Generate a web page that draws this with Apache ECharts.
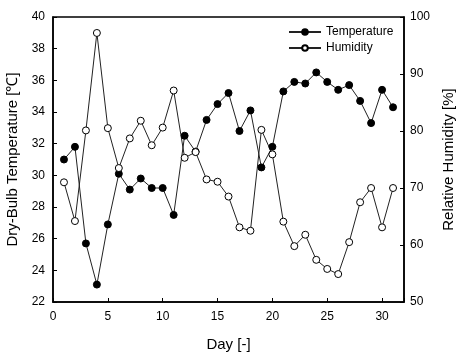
<!DOCTYPE html>
<html><head><meta charset="utf-8">
<script src="https://cdn.jsdelivr.net/npm/echarts@6/dist/echarts.min.js"></script>
<style>html,body{margin:0;padding:0;background:#fff}#c{width:459px;height:356px}</style>
</head><body><div id="c"></div>
<script>
const days = [1,2,3,4,5,6,7,8,9,10,11,12,13,14,15,16,17,18,19,20,21,22,23,24,25,26,27,28,29,30,31];
const temperature = [31.0,31.8,25.7,23.1,26.9,30.1,29.1,29.8,29.2,29.2,27.5,32.5,31.5,33.5,34.5,35.2,32.8,34.1,30.5,31.8,35.3,35.9,35.8,36.5,35.9,35.4,35.7,34.7,33.3,35.4,34.3];
const humidity = [71.0,64.2,80.1,97.2,80.5,73.5,78.7,81.8,77.5,80.6,87.1,75.3,76.3,71.5,71.1,68.5,63.1,62.5,80.2,75.9,64.1,59.8,61.8,57.4,55.8,54.9,60.5,67.5,70.0,63.1,70.0];
const xTicks = [0,5,10,15,20,25,30];

const font = 'Liberation Sans, Arial, sans-serif';
const chart = echarts.init(document.getElementById('c'), null, {renderer:'canvas'});
const axisLine = {show:true, lineStyle:{color:'#000', width:1.5}};
chart.setOption({
  animation:false,
  backgroundColor:'#fff',
  textStyle:{fontFamily:font, color:'#000'},
  grid:{left:53, right:55, top:17, bottom:54, show:true, borderColor:'#000', borderWidth:1.5, containLabel:false, outerBoundsMode:'none'},
  legend:{
    orient:'vertical', left:283, top:21, itemWidth:32, itemHeight:7, itemGap:4,
    textStyle:{fontFamily:font, fontSize:12, color:'#000'},
    data:['Temperature','Humidity']
  },
  xAxis:{
    type:'value', min:0, max:32, interval:5,
    name:'Day [-]', nameLocation:'middle', nameGap:35,
    nameTextStyle:{fontFamily:font, fontSize:15, color:'#000'},
    axisLine:axisLine,
    axisTick:{show:true, inside:true, length:4, lineStyle:{color:'#000', width:1}},
    axisLabel:{fontFamily:font, fontSize:12, color:'#000', margin:9,
      formatter:v => xTicks.includes(v) ? String(v) : ''},
    splitLine:{show:false}
  },
  yAxis:[{
    type:'value', min:22, max:40, interval:2, position:'left',
    name:'Dry-Bulb Temperature [\u2103]', nameLocation:'middle', nameGap:25,
    nameTextStyle:{fontFamily:font, fontSize:15, color:'#000'},
    axisLine:axisLine,
    axisTick:{show:true, inside:true, length:4, lineStyle:{color:'#000', width:1}},
    axisLabel:{fontFamily:font, fontSize:12, color:'#000', margin:8},
    splitLine:{show:false}
  },{
    type:'value', min:50, max:100, interval:10, position:'right',
    name:'Relative Humidity [%]', nameLocation:'middle', nameGap:37, nameRotate:90,
    nameTextStyle:{fontFamily:font, fontSize:15, color:'#000'},
    axisLine:axisLine,
    axisTick:{show:true, inside:true, length:4, lineStyle:{color:'#000', width:1}},
    axisLabel:{fontFamily:font, fontSize:12, color:'#000', margin:6},
    splitLine:{show:false}
  }],
  series:[{
    name:'Temperature', type:'line', yAxisIndex:0,
    data:days.map((d,i)=>[d,temperature[i]]),
    symbol:'circle', symbolSize:7, showAllSymbol:true,
    lineStyle:{color:'#222', width:1},
    itemStyle:{color:'#000', borderColor:'#000', borderWidth:1}
  },{
    name:'Humidity', type:'line', yAxisIndex:1,
    data:days.map((d,i)=>[d,humidity[i]]),
    symbol:'circle', symbolSize:7, showAllSymbol:true,
    lineStyle:{color:'#222', width:1},
    itemStyle:{color:'#fff', borderColor:'#000', borderWidth:1}
  }]
});
</script></body></html>
